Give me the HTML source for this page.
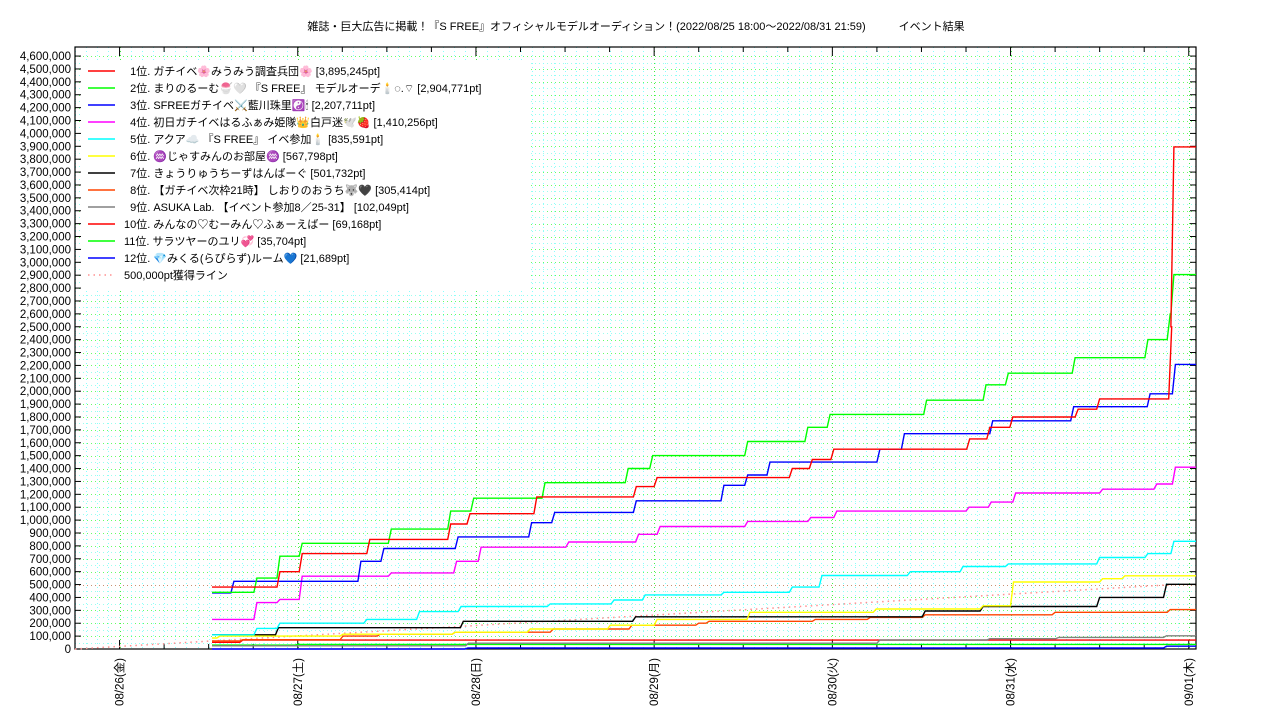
<!DOCTYPE html>
<html><head><meta charset="utf-8"><style>
html,body{margin:0;padding:0;background:#fff;}
svg{display:block;font-family:"Liberation Sans","Noto Sans CJK JP",sans-serif;}
</style></head><body>
<svg id="chart" width="1280" height="720" viewBox="0 0 1280 720" xmlns="http://www.w3.org/2000/svg">
<rect width="1280" height="720" fill="#fff"/>
<text x="636" y="30" font-size="11" text-anchor="middle">雑誌・巨大広告に掲載！『S FREE』オフィシャルモデルオーディション！(2022/08/25 18:00〜2022/08/31 21:59)　　　イベント結果</text>
<g id="grid" shape-rendering="crispEdges"></g>
<g id="axes"></g>
<g id="series"></g>
<g id="legend"></g>
</svg>
<script>
// ---- data (hours since 2022/08/25 18:00, points) ----
const seriesNames = [
 " 1位. ガチイベ🌸みうみう調査兵団🌸 [3,895,245pt]",
 " 2位. まりのるーむ🍧🤍 『S FREE』 モデルオーデ🕯️◌.⌔ [2,904,771pt]",
 " 3位. SFREEガチイベ⚔️藍川珠里☯️🕯 [2,207,711pt]",
 " 4位. 初日ガチイベはるふぁみ姫隊👑白戸迷🕊️🍓 [1,410,256pt]",
 " 5位. アクア☁️ 『S FREE』 イベ参加🕯️ [835,591pt]",
 " 6位. ♒じゃすみんのお部屋♒ [567,798pt]",
 " 7位. きょうりゅうちーずはんばーぐ [501,732pt]",
 " 8位. 【ガチイベ次枠21時】 しおりのおうち🐺🖤 [305,414pt]",
 " 9位. ASUKA Lab. 【イベント参加8／25-31】 [102,049pt]",
 "10位. みんなの♡むーみん♡ふぁーえばー [69,168pt]",
 "11位. サラツヤーのユリ💞 [35,704pt]",
 "12位. 💎みくる(らぴらず)ルーム💙 [21,689pt]"
];
const seriesColors = ["#ff0000","#00ff00","#0000ff","#ff00ff","#00ffff","#ffff00","#000000","#ff4500","#808080","#ff0000","#00ff00","#0000ff"];
const s1 = [[18.45,480000],[27.6,600000],[30.6,740000],[39.7,850000],[50.6,970000],[53.2,1050000],[62.2,1180000],[75.6,1260000],[78.4,1330000],[96.6,1400000],[99.3,1470000],[102.2,1550000],[120.5,1630000],[123.2,1720000],[126.3,1800000],[135.1,1860000],[138.0,1940000],[147.7,2500000],[148.0,3895245]];
const s2 = [[18.45,440000],[24.5,550000],[27.6,720000],[30.6,820000],[42.6,930000],[50.6,1070000],[53.7,1170000],[63.3,1290000],[74.5,1400000],[77.8,1500000],[90.6,1610000],[98.7,1720000],[101.7,1820000],[114.7,1930000],[122.7,2050000],[125.7,2140000],[134.7,2260000],[144.5,2400000],[147.5,2600000],[148.0,2904771]];
const s3 = [[18.45,435000],[21.4,525000],[38.5,680000],[41.6,780000],[51.6,870000],[61.5,980000],[64.6,1060000],[75.6,1150000],[87.4,1270000],[90.6,1350000],[93.6,1450000],[108.4,1550000],[111.7,1670000],[123.6,1770000],[134.5,1880000],[144.8,1980000],[148.2,2207711]];
const s4 = [[18.45,230000],[24.5,360000],[27.6,385000],[30.6,565000],[42.6,590000],[51.4,680000],[54.7,790000],[66.5,830000],[75.9,890000],[78.8,950000],[90.6,990000],[99.1,1020000],[102.6,1070000],[120.4,1100000],[123.4,1140000],[126.7,1210000],[138.4,1240000],[145.7,1280000],[148.2,1410256]];
const s5 = [[18.45,110000],[24.5,160000],[27.6,200000],[39.3,230000],[46.4,290000],[52.0,330000],[64.0,350000],[72.6,380000],[76.8,420000],[87.4,440000],[96.6,480000],[100.6,570000],[112.5,600000],[119.6,640000],[125.7,660000],[138.0,710000],[144.5,740000],[148.0,835591]];
const s6 = [[18.45,85000],[19.5,100000],[36.1,115000],[51.2,130000],[61.3,155000],[72.1,185000],[78.4,230000],[90.9,285000],[107.9,310000],[122.3,335000],[126.4,520000],[138.4,545000],[141.4,567798]];
const s7 = [[18.45,110000],[27.4,165000],[52.3,215000],[75.5,250000],[114.5,295000],[122.3,330000],[138.0,400000],[147.0,501732]];
const s8 = [[18.45,62000],[22.6,72000],[36.1,100000],[41.1,115000],[51.2,130000],[64.4,155000],[75.0,185000],[84.0,200000],[85.4,215000],[99.7,230000],[107.1,245000],[114.5,265000],[132.0,285000],[147.5,305414]];
const s9 = [[18.45,25000],[53.0,45000],[108.4,70000],[123.2,80000],[132.5,90000],[147.0,102049]];
const s10 = [[18.45,52000],[22.6,69168]];
const s11 = [[18.45,30000],[30.0,35704]];
const s12 = [[18.45,0],[52.9,8000],[147.0,21689]];
const allSeries = [s1,s2,s3,s4,s5,s6,s7,s8,s9,s10,s11,s12];
const dayLabels = ["08/26(金)","08/27(土)","08/28(日)","08/29(月)","08/30(火)","08/31(水)","09/01(木)"];
const targetValue = 500000;
const eventEndHour = 148.0;
const yMaxTick = 4600000;

// ---- axis functions ----
const X0=75, X1=1196, Y0=649, YT=47;
const PXH = 178.2/24;
const endHour = (X1-X0)/PXH;
function xs(h){return X0 + h*PXH;}
function ys(v){return Y0 - v/100000*12.89;}
const NS="http://www.w3.org/2000/svg";
function mk(tag,attrs,parent){const e=document.createElementNS(NS,tag);for(const k in attrs)e.setAttribute(k,attrs[k]);parent.appendChild(e);return e;}
const grid=document.getElementById('grid'), axes=document.getElementById('axes'), ser=document.getElementById('series'), leg=document.getElementById('legend');

// grid
for(let v=50000; v<=yMaxTick; v+=50000){
  const l=mk('line',{x1:X0,x2:X1,y1:Math.round(ys(v))+0.5,y2:Math.round(ys(v))+0.5,stroke:(v%100000===0)?'#66ff66':'#99ffee','stroke-width':1,'stroke-dasharray':'1,3'},grid);
  
  
}
for(let h=0; h<endHour; h+=1.5){
  const x=Math.round(xs(h))+0.5;
  const l=mk('line',{x1:x,x2:x,y1:YT,y2:Y0,stroke:'#88ffff','stroke-width':1,'stroke-dasharray':'1,3'},grid);
  
  
}
dayLabels.forEach((d,i)=>{
  const x=Math.round(xs(6+24*i))+0.5;
  const l=mk('line',{x1:x,x2:x,y1:YT,y2:Y0,stroke:'#44ee44','stroke-width':1,'stroke-dasharray':'1,3'},grid);
  
  
});
// 500k horizontal line
const hl=mk('line',{x1:X0,x2:X1,y1:Math.round(ys(targetValue))+0.5,y2:Math.round(ys(targetValue))+0.5,stroke:'#c89070','stroke-width':1,'stroke-dasharray':'1,3'},grid);



// frame & ticks
const fr=mk('rect',{x:X0,y:YT,width:X1-X0,height:Y0-YT,fill:'none',stroke:'#000','stroke-width':1.2},axes);


for(let v=0; v<=yMaxTick; v+=100000){
  const y=ys(v);
  mk('line',{x1:X0,x2:X0+6,y1:y,y2:y,stroke:'#000'},axes);
  mk('line',{x1:X1,x2:X1-6,y1:y,y2:y,stroke:'#000'},axes);
  const t=mk('text',{x:71,y:y+4,'font-size':11.5,'text-anchor':'end'},axes);
  t.textContent=v.toLocaleString('en-US');
  
  
}
for(let h=0; h<endHour; h+=6){
  const major=((h-6)%24===0);
  const len=major?9:5;
  mk('line',{x1:xs(h),x2:xs(h),y1:Y0,y2:Y0-len,stroke:'#000'},axes);
  mk('line',{x1:xs(h),x2:xs(h),y1:YT,y2:YT+len,stroke:'#000'},axes);
}
dayLabels.forEach((d,i)=>{
  const x=xs(6+24*i)+4;
  const t=mk('text',{x:0,y:0,'font-size':11.5,'text-anchor':'end',transform:`translate(${x},658) rotate(-90)`},axes);
  t.textContent=d;
  
  
});

// target diagonal line
const dl=mk('line',{x1:X0,y1:ys(0),x2:xs(eventEndHour),y2:ys(targetValue),stroke:'#ff9090','stroke-width':1.5,'stroke-dasharray':'1.5,4'},ser);



// series
allSeries.slice().reverse().forEach((pts,ri)=>{
  const i=allSeries.length-1-ri;
  let d=`M${xs(pts[0][0]).toFixed(1)},${ys(pts[0][1]).toFixed(1)}`;
  for(let k=1;k<pts.length;k++){
    d+=` L${xs(pts[k][0]-0.4).toFixed(1)},${ys(pts[k-1][1]).toFixed(1)} L${xs(pts[k][0]).toFixed(1)},${ys(pts[k][1]).toFixed(1)}`;
  }
  d+=` L${xs(endHour).toFixed(1)},${ys(pts[pts.length-1][1]).toFixed(1)}`;
  const p=mk('path',{d:d,fill:'none',stroke:seriesColors[i],'stroke-width':1.4},ser);
  
  
});

// legend
const lb=mk('rect',{x:83,y:62,width:448,height:229,fill:'#fff'},leg);


seriesNames.forEach((n,i)=>{
  const y=71+i*17;
  const g=mk('g',{},leg);
  
  
  mk('line',{x1:88,x2:115,y1:y,y2:y,stroke:seriesColors[i],'stroke-width':1.4},g);
  const t=mk('text',{x:124,y:y+4,'font-size':11},g);
  t.setAttribute('style','white-space:pre');
  t.textContent=n.startsWith(' ')?'  '+n.slice(1):n;
});
{
  const y=71+12*17;
  const g=mk('g',{},leg);
  
  
  mk('line',{x1:88,x2:115,y1:y,y2:y,stroke:'#ff9090','stroke-width':1.5,'stroke-dasharray':'1.5,4'},g);
  const t=mk('text',{x:124,y:y+4,'font-size':11},g);
  t.textContent='500,000pt獲得ライン';
}
</script>
</body></html>
